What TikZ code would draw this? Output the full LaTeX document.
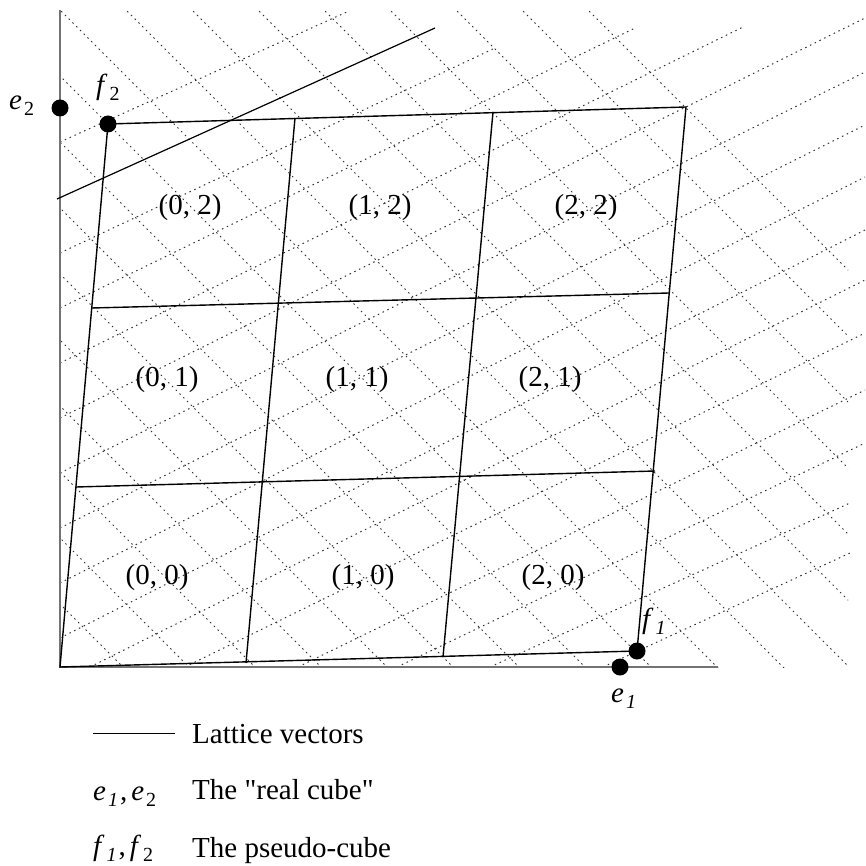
\documentclass[tikz,border=0pt]{standalone}
\usepackage{fontspec}
\setmainfont{Liberation Serif}[Ligatures=TeXOff]
\newcommand{\vlab}[2]{\textit{#1}\kern2pt\raisebox{-6pt}{\fontsize{20}{20}\selectfont #2}}
\begin{document}
\begin{tikzpicture}[x=1pt,y=-1pt,
  lat/.style={draw=black!80, line width=1pt, dash pattern=on 1.5pt off 3.8pt},
  cube/.style={draw=black, line width=1.4pt},
  axis/.style={draw=black!55, line width=2pt},
  vec/.style={draw=black, line width=1.2pt},
  dot/.style={circle, fill=black, inner sep=0pt, minimum size=17pt},
  cell/.style={inner sep=0pt, font=\fontsize{29}{34}\selectfont},
  lbl/.style={inner sep=0pt, anchor=base west, font=\fontsize{29}{34}\selectfont}]
\useasboundingbox (0,0) rectangle (865,866);

% lattice, family A (down-right)
\begin{scope}
  \clip (60,10) rectangle (848,667);
  \foreach \k in {-9,...,8} {
    \draw[lat] ({60+66*\k-10},0) -- ({60+66*\k+700},710);
  }
\end{scope}
% lattice, family B (up-right)
\foreach \a/\b/\c/\d in {60/142/349/11, 60/253/495/48, 60/308/635/28, 60/363/743/27,
  60/418/865/18, 60/473/865/72, 60/528/865/125, 60/583/865/177, 60/638/865/230,
  90/667/865/280, 185/667/865/333, 298/667/865/390, 397/667/865/443,
  490/667/850/503, 603/667/850/553}
  \draw[lat] (\a,\b) -- (\c,\d);

% axes
\coordinate (Ytop) at (60,10);
\coordinate (O) at (60,667);
\coordinate (Xend) at (718,667);
\draw[axis] (Ytop) -- (O) -- (Xend);

% lattice vector
\coordinate (L1) at (57,199);
\coordinate (L2) at (435,28);
\draw[vec] (L1) -- (L2);

% pseudo-cube
\coordinate (P00) at (60,667);
\coordinate (P10) at (246,663);
\coordinate (P20) at (443,657);
\coordinate (P30) at (637,651);
\coordinate (P03) at (108,124);
\coordinate (P13) at (295,118);
\coordinate (P23) at (493,112);
\coordinate (P33) at (686,107);
\coordinate (P01) at (76,487);
\coordinate (P31) at (655,471);
\coordinate (P02) at (92,308);
\coordinate (P32) at (669,293);
\draw[cube] (P00) -- (P30) -- (P33) -- (P03) -- cycle;
\draw[cube] (P10) -- (P13);
\draw[cube] (P20) -- (P23);
\draw[cube] (P01) -- (P31);
\draw[cube] (P02) -- (P32);

% cell labels
\node[cell] (c02) at (190,208) {(0, 2)};
\node[cell] (c12) at (380,208) {(1, 2)};
\node[cell] (c22) at (586,208) {(2, 2)};
\node[cell] (c01) at (167,380) {(0, 1)};
\node[cell] (c11) at (357,380) {(1, 1)};
\node[cell] (c21) at (550,380) {(2, 1)};
\node[cell] (c00) at (157,578) {(0, 0)};
\node[cell] (c10) at (363,578) {(1, 0)};
\node[cell] (c20) at (553,578) {(2, 0)};

% points
\node[dot] (e1) at (620,667) {};
\node[dot] (e2) at (60,108) {};
\node[dot] (f1) at (P30) {};
\node[dot] (f2) at (P03) {};

\node[lbl] (le2) at (9,110) {\vlab{e}{2}};
\node[lbl] (lf2) at (96,95) {\vlab{f}{2}};
\node[lbl] (lf1) at (642,628) {\vlab{f}{\textit{1}}};
\node[lbl] (le1) at (611,702) {\vlab{e}{\textit{1}}};

% legend
\coordinate (K1) at (93,733);
\coordinate (K2) at (175,733);
\draw[draw=black, line width=0.8pt] (K1) -- (K2);
\node[lbl] (t1) at (192,743) {Lattice vectors};
\node[lbl] (s2) at (93,800) {\vlab{e}{\textit{1}}\kern2pt,\kern4pt\vlab{e}{2}};
\node[lbl] (t2) at (192,799) {The "real cube"};
\node[lbl] (s3) at (93,855) {\vlab{f}{\textit{1}}\kern2pt,\kern4pt\vlab{f}{2}};
\node[lbl] (t3) at (192,857) {The pseudo-cube};
\end{tikzpicture}
\end{document}
